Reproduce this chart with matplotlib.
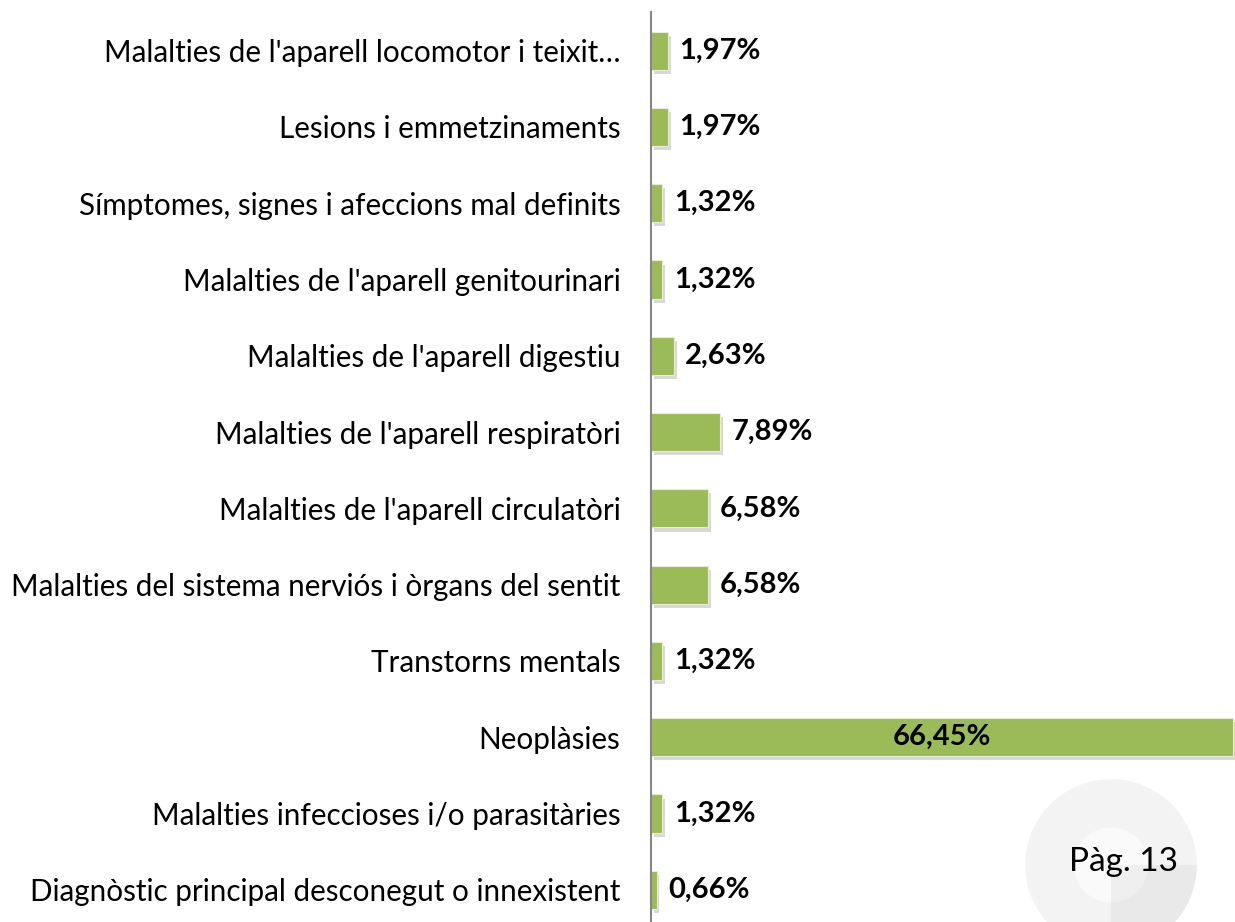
import matplotlib
matplotlib.use('Agg')
import matplotlib.pyplot as plt
import matplotlib.patheffects as pe
from matplotlib.patches import Wedge

plt.rcParams['font.family'] = ['Lato', 'DejaVu Sans']

# categories from top to bottom
categories = [
    "Malalties de l'aparell locomotor i teixit…",
    "Lesions i emmetzinaments",
    "Símptomes, signes i afeccions mal definits",
    "Malalties de l'aparell genitourinari",
    "Malalties de l'aparell digestiu",
    "Malalties de l'aparell respiratòri",
    "Malalties de l'aparell circulatòri",
    "Malalties del sistema nerviós i òrgans del sentit",
    "Transtorns mentals",
    "Neoplàsies",
    "Malalties infeccioses i/o parasitàries",
    "Diagnòstic principal desconegut o innexistent",
]
values = [1.97, 1.97, 1.32, 1.32, 2.63, 7.89, 6.58, 6.58, 1.32, 66.45, 1.32, 0.66]
value_labels = ["1,97%", "1,97%", "1,32%", "1,32%", "2,63%", "7,89%",
                "6,58%", "6,58%", "1,32%", "66,45%", "1,32%", "0,66%"]

fig = plt.figure(figsize=(12.35, 9.22), dpi=100)
ax = fig.add_axes([0.527, -0.0065, 0.473, 0.993])

ypos = list(range(len(categories)))
bars = ax.barh(ypos, values, height=0.5, color='#9BBB59',
               edgecolor='#E6EED5', linewidth=0.8)
for b in bars:
    b.set_path_effects([pe.SimplePatchShadow(offset=(2, -3), shadow_rgbFace='#808080', alpha=0.3),
                        pe.Normal()])

ax.set_xlim(0, 66.7)
ax.set_ylim(len(categories) - 0.5, -0.5)
ax.set_yticks(ypos)
ax.set_yticklabels(categories, fontsize=21.3)
ax.tick_params(axis='y', length=0, pad=22)
ax.set_xticks([])
for s in ['top', 'right', 'bottom']:
    ax.spines[s].set_visible(False)
ax.spines['left'].set_color('#868686')
ax.spines['left'].set_linewidth(1.5)

for y, v, lab in zip(ypos, values, value_labels):
    if v > 30:
        ax.text(v / 2, y, lab, ha='center', va='center', fontsize=21,
                fontweight='bold', color='black')
    else:
        ax.text(v + 1.3, y, lab, ha='left', va='center', fontsize=21,
                fontweight='bold', color='black')

# page watermark in the corner
wm = fig.add_axes([1111 / 1235 - 0.08, 1 - 865 / 922 - 0.107, 0.16, 0.214])
wm.set_xlim(-1, 1)
wm.set_ylim(-1, 1)
wm.set_aspect('equal')
wm.axis('off')
wm.add_patch(Wedge((0, 0), 0.87, 0, 270, facecolor='#F3F3F3', edgecolor='none'))
wm.add_patch(Wedge((0, 0), 0.87, 270, 360, facecolor='#E9E9E9', edgecolor='none'))
wm.add_patch(Wedge((0, 0), 0.38, 0, 270, facecolor='#FAFAFA', edgecolor='none'))
wm.add_patch(Wedge((0, 0), 0.38, 270, 360, facecolor='#EFEFEF', edgecolor='none'))
wm.text(0.13, 0.03, "Pàg. 13", ha='center', va='center', fontsize=24, color='black')

fig.savefig('out.png', dpi=100)
